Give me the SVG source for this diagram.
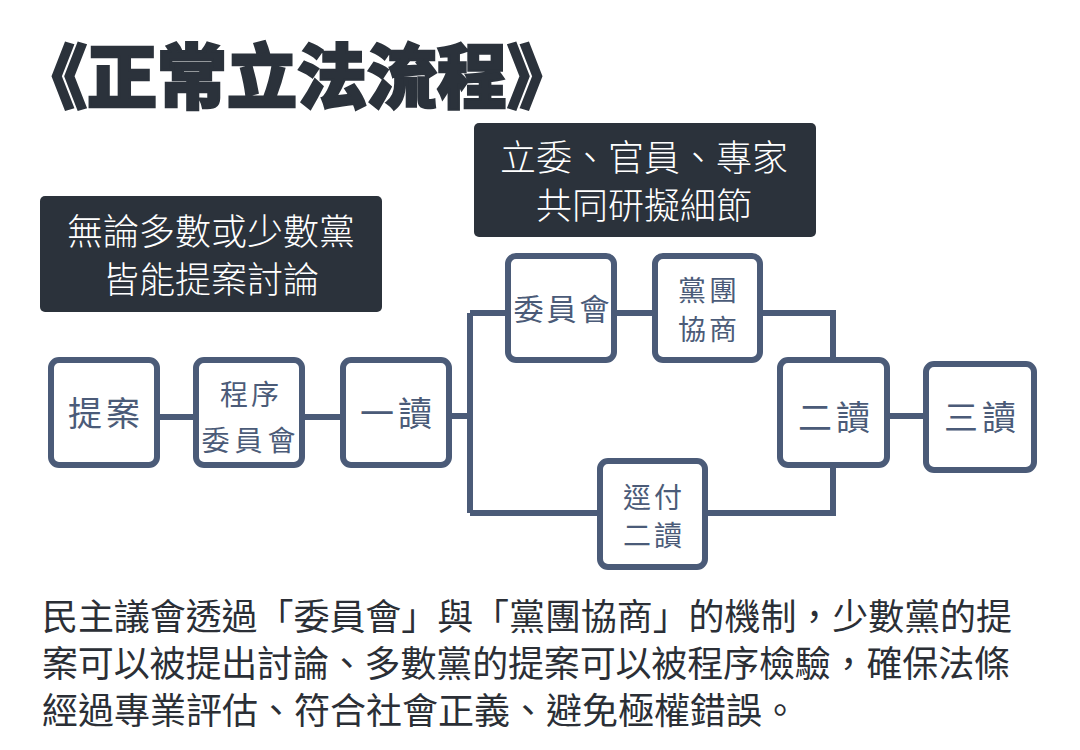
<svg xmlns="http://www.w3.org/2000/svg" width="1080" height="750" viewBox="0 0 1080 750">
<style>
.bg{fill:#ffffff}
.node rect{fill:#ffffff;stroke:#4b5b78;stroke-width:6}
.node text{fill:#4b5b78;font-family:"Noto Sans CJK TC","Noto Sans CJK SC",sans-serif;text-anchor:middle}
.big{font-size:34px;letter-spacing:4px}
.small{font-size:28px;letter-spacing:3px}
.conn path{fill:none;stroke:#4b5b78;stroke-width:6;stroke-linejoin:miter}
.note rect{fill:#2b323b}
.note text{fill:#ffffff;font-family:"Noto Sans CJK TC","Noto Sans CJK SC",sans-serif;font-size:36px;font-weight:300;text-anchor:middle}
.title{fill:#2b323b;stroke:#2b323b;stroke-width:2.5;font-family:"Noto Sans CJK TC","Noto Sans CJK SC",sans-serif;font-size:70px;font-weight:900}
.body{fill:#2b2f36;font-family:"Noto Sans CJK TC","Noto Sans CJK SC",sans-serif;font-size:36px}
</style>
<rect class="bg" x="0" y="0" width="1080" height="750"/>

<text class="title" x="17" y="103">《正常立法流程》</text>

<g id="note-left" class="note">
<rect x="40" y="196" width="342" height="116" rx="5"/>
<text x="211" y="245">無論多數或少數黨</text>
<text x="211" y="293">皆能提案討論</text>
</g>
<g id="note-right" class="note">
<rect x="474" y="123" width="342" height="114" rx="5"/>
<text x="644" y="171">立委、官員、專家</text>
<text x="644" y="219">共同研擬細節</text>
</g>

<g id="connectors" class="conn">
<path d="M157 417 H196"/>
<path d="M302 417 H343"/>
<path d="M449 416 H470"/>
<path d="M470 313 V513"/>
<path d="M470 313 H508"/>
<path d="M614 313 H655"/>
<path d="M760 313 H833 V360"/>
<path d="M470 513 H600"/>
<path d="M705 513 H833 V465"/>
<path d="M887 416 H926"/>
</g>

<g id="n-proposal" class="node">
<rect x="51" y="360" width="106" height="105" rx="8"/>
<text class="big" x="106" y="426">提案</text>
</g>
<g id="n-procedure" class="node">
<rect x="196" y="360" width="106" height="105" rx="8"/>
<text class="small" x="251" y="405">程序</text>
<text class="small" x="251" y="451" style="letter-spacing:5px">委員會</text>
</g>
<g id="n-first" class="node">
<rect x="343" y="360" width="106" height="105" rx="8"/>
<text class="big" x="398" y="426">一讀</text>
</g>
<g id="n-committee" class="node">
<rect x="508" y="256" width="106" height="104" rx="8"/>
<text class="small" x="563" y="320" style="font-size:30px;letter-spacing:3px">委員會</text>
</g>
<g id="n-caucus" class="node">
<rect x="655" y="256" width="105" height="104" rx="8"/>
<text class="small" x="709" y="301">黨團</text>
<text class="small" x="709" y="340">協商</text>
</g>
<g id="n-second" class="node">
<rect x="780" y="360" width="107" height="105" rx="8"/>
<text class="big" x="836" y="430">二讀</text>
</g>
<g id="n-third" class="node">
<rect x="926" y="364" width="108" height="106" rx="8"/>
<text class="big" x="982" y="430">三讀</text>
</g>
<g id="n-direct" class="node">
<rect x="600" y="461" width="105" height="106" rx="8"/>
<text class="small" x="654" y="508">逕付</text>
<text class="small" x="654" y="546">二讀</text>
</g>

<text class="body" x="42" y="630" textLength="970" lengthAdjust="spacing">民主議會透過「委員會」與「黨團協商」的機制，少數黨的提</text>
<text class="body" x="42" y="677" textLength="968" lengthAdjust="spacing">案可以被提出討論、多數黨的提案可以被程序檢驗，確保法條</text>
<text class="body" x="42" y="724">經過專業評估、符合社會正義、避免極權錯誤。</text>
</svg>
